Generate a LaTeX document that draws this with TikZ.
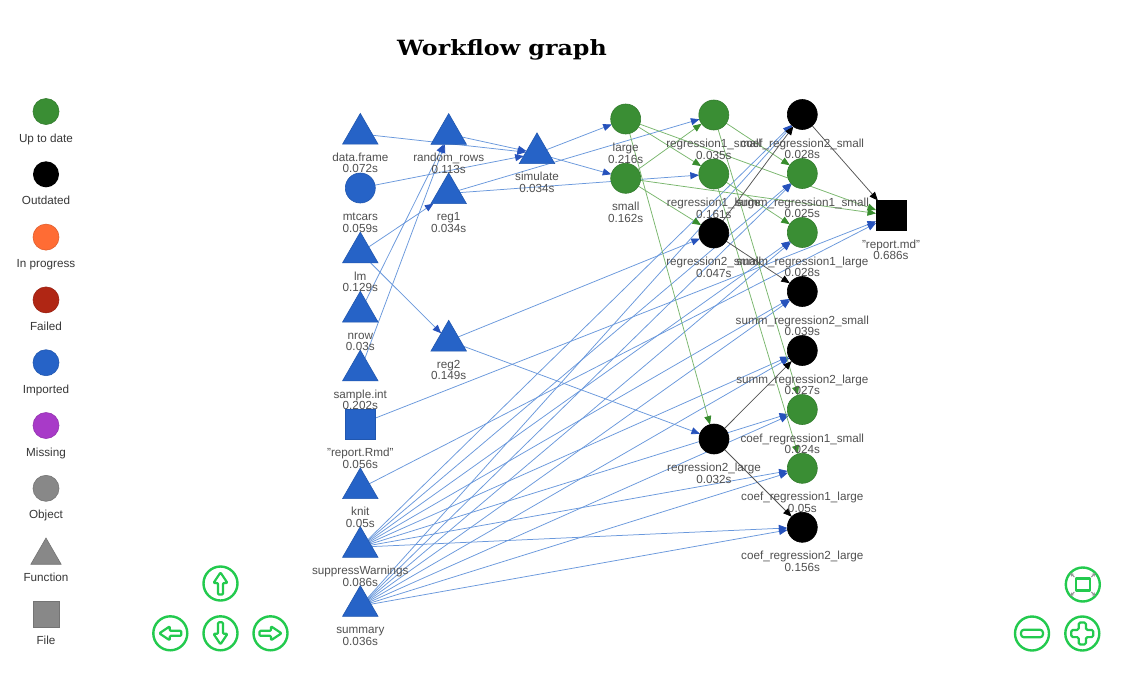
\documentclass[tikz,border=0pt]{standalone}
\usepackage{fontspec}
\setmainfont{Liberation Sans}
\newfontfamily\titlefont{DejaVu Serif}
\usetikzlibrary{shapes.geometric,arrows.meta,backgrounds}

\definecolor{uptodate}{RGB}{58,142,52}
\definecolor{imported}{RGB}{38,99,199}
\definecolor{inprog}{RGB}{255,108,52}
\definecolor{failed}{RGB}{176,38,20}
\definecolor{missing}{RGB}{168,58,200}
\definecolor{objgray}{RGB}{136,136,136}
\definecolor{navgreen}{RGB}{35,202,78}
\definecolor{edgeblue}{RGB}{105,152,220}
\definecolor{arrowblue}{RGB}{38,82,188}
\definecolor{edgegreen}{RGB}{120,182,108}
\definecolor{arrowgreen}{RGB}{55,140,45}
\definecolor{edgegray}{RGB}{85,85,85}
\definecolor{labelgray}{RGB}{80,80,80}
\definecolor{legendtext}{RGB}{55,55,55}

\newcommand\lblfont{\fontsize{11.7}{11.5}\selectfont}

\tikzset{
  tri/.style={regular polygon, regular polygon sides=3, minimum size=41pt, inner sep=0pt, outer sep=0pt},
  circ/.style={circle, minimum size=30pt, inner sep=0pt, outer sep=0pt},
  sq/.style={rectangle, minimum size=30pt, inner sep=0pt, outer sep=0pt},
  imp/.style={fill=imported, draw=imported!88!black, line width=0.6pt},
  upd/.style={fill=uptodate, draw=uptodate!88!black, line width=0.6pt},
  outd/.style={fill=black, draw=black, line width=0.6pt},
  lbl/.style={anchor=base, inner sep=0pt, outer sep=0pt, text=labelgray, font=\lblfont},
  leglbl/.style={anchor=base, inner sep=0pt, text=legendtext, font=\lblfont},
  eb/.style={draw=edgeblue, line width=0.75pt, -{Triangle[length=8.5pt,width=7pt,color=arrowblue]}},
  eg/.style={draw=edgegreen, line width=0.75pt, -{Triangle[length=8.5pt,width=7pt,color=arrowgreen]}},
  ek/.style={draw=edgegray, line width=0.75pt, -{Triangle[length=8.5pt,width=7pt,color=black]}},
  navbtn/.style={circle, draw=navgreen, line width=2.4pt, minimum size=34pt, inner sep=0pt},
  navglyph/.style={draw=navgreen, line width=2.2pt, rounded corners=1pt, line join=round},
  cornerarrow/.style={draw=gray!85, line width=1pt, -{Stealth[length=3.5pt,width=4pt]}},
}

\newcommand\gtri[6]{%
  \node[tri,#4] (#1) at (#2,#3+5.1) {};
  \node[lbl] (#1-lab) at (#2,#3+32.5) {\begin{tabular}[t]{@{}c@{}}#5\\#6\end{tabular}};}
\newcommand\gcirc[6]{%
  \node[circ,#4] (#1) at (#2,#3) {};
  \node[lbl] (#1-lab) at (#2,#3+32.5) {\begin{tabular}[t]{@{}c@{}}#5\\#6\end{tabular}};}
\newcommand\gsq[6]{%
  \node[sq,#4] (#1) at (#2,#3) {};
  \node[lbl] (#1-lab) at (#2,#3+32.5) {\begin{tabular}[t]{@{}c@{}}#5\\#6\end{tabular}};}

\begin{document}
\begin{tikzpicture}[x=1pt,y=-1pt]
\useasboundingbox (0,0) rectangle (1125,689);

% title
\node[anchor=base, inner sep=0pt, font=\titlefont\bfseries\fontsize{21}{24}\selectfont] (title) at (502,55) {\scalebox{1.13}[1]{Workflow graph}};

% legend
\node[circ, minimum size=26pt, fill=uptodate, draw=uptodate!88!black, line width=0.6pt] (leg-utd) at (46,111.5) {};
\node[leglbl] (leg-utd-l) at (46,142) {Up to date};
\node[circ, minimum size=26pt, fill=black] (leg-out) at (46,174.3) {};
\node[leglbl] (leg-out-l) at (46,204.8) {Outdated};
\node[circ, minimum size=26pt, fill=inprog, draw=inprog!88!black, line width=0.6pt] (leg-inp) at (46,237.1) {};
\node[leglbl] (leg-inp-l) at (46,267.6) {In progress};
\node[circ, minimum size=26pt, fill=failed, draw=failed!88!black, line width=0.6pt] (leg-fail) at (46,299.9) {};
\node[leglbl] (leg-fail-l) at (46,330.4) {Failed};
\node[circ, minimum size=26pt, fill=imported, draw=imported!88!black, line width=0.6pt] (leg-imp) at (46,362.7) {};
\node[leglbl] (leg-imp-l) at (46,393.2) {Imported};
\node[circ, minimum size=26pt, fill=missing, draw=missing!88!black, line width=0.6pt] (leg-mis) at (46,425.5) {};
\node[leglbl] (leg-mis-l) at (46,456) {Missing};
\node[circ, minimum size=26pt, fill=objgray, draw=objgray!85!black, line width=0.6pt] (leg-obj) at (46,488.3) {};
\node[leglbl] (leg-obj-l) at (46,518.8) {Object};
\node[tri, minimum size=35pt, fill=objgray, draw=objgray!85!black, line width=0.6pt] (leg-fun) at (46,551.1+4.4) {};
\node[leglbl] (leg-fun-l) at (46,581.6) {Function};
\node[sq, minimum size=26pt, fill=objgray, draw=objgray!85!black, line width=0.6pt] (leg-file) at (46,613.9) {};
\node[leglbl] (leg-file-l) at (46,644.4) {File};

% graph nodes
\gtri{df}{360.3}{128.8}{imp}{data.frame}{0.072s}
\gcirc{mt}{360.3}{188}{imp}{mtcars}{0.059s}
\gtri{lm}{360.3}{247.5}{imp}{lm}{0.129s}
\gtri{nrow}{360.3}{306.7}{imp}{nrow}{0.03s}
\gtri{sint}{360.3}{365.5}{imp}{sample.int}{0.202s}
\gsq{rmd}{360.3}{424}{imp}{"report.Rmd"}{0.056s}
\gtri{knit}{360.3}{483.3}{imp}{knit}{0.05s}
\gtri{sw}{360.3}{542}{imp}{suppressWarnings}{0.086s}
\gtri{summ}{360.3}{601}{imp}{summary}{0.036s}
\gtri{rr}{448.7}{129}{imp}{random\_rows}{0.113s}
\gtri{reg1}{448.7}{188.3}{imp}{reg1}{0.034s}
\gtri{reg2}{448.7}{335.7}{imp}{reg2}{0.149s}
\gtri{sim}{537}{148.3}{imp}{simulate}{0.034s}
\gcirc{large}{625.7}{119}{upd}{large}{0.216s}
\gcirc{small}{625.7}{178.3}{upd}{small}{0.162s}
\gcirc{r1s}{713.8}{115}{upd}{regression1\_small}{0.035s}
\gcirc{r1l}{713.8}{174}{upd}{regression1\_large}{0.161s}
\gcirc{r2s}{713.8}{233}{outd}{regression2\_small}{0.047s}
\gcirc{r2l}{714}{439}{outd}{regression2\_large}{0.032s}
\gcirc{c2s}{802.3}{114.5}{outd}{coef\_regression2\_small}{0.028s}
\gcirc{s1s}{802.3}{173.5}{upd}{summ\_regression1\_small}{0.025s}
\gcirc{s1l}{802.3}{232.5}{upd}{summ\_regression1\_large}{0.028s}
\gcirc{s2s}{802.3}{291.5}{outd}{summ\_regression2\_small}{0.039s}
\gcirc{s2l}{802.3}{350.5}{outd}{summ\_regression2\_large}{0.027s}
\gcirc{c1s}{802.3}{409.5}{upd}{coef\_regression1\_small}{0.024s}
\gcirc{c1l}{802.3}{468.3}{upd}{coef\_regression1\_large}{0.05s}
\gcirc{c2l}{802.3}{527.3}{outd}{coef\_regression2\_large}{0.156s}
\gsq{md}{891}{215.5}{outd}{"report.md"}{0.686s}

% edges (under the nodes)
\begin{scope}[on background layer]
\fill[white] (0,0) rectangle (1125,689);
\foreach \a/\b in {df/sim, rr/sim, mt/sim, nrow/rr, sint/rr, lm/reg1, lm/reg2,
    sim/large, sim/small, reg1/r1s, reg1/r1l, reg2/r2s, reg2/r2l, rmd/md, knit/md,
    sw/s1s, sw/s1l, sw/s2s, sw/s2l, sw/c1s, sw/c1l, sw/c2s, sw/c2l,
    summ/s1s, summ/s1l, summ/s2s, summ/s2l, summ/c1s, summ/c1l, summ/c2s, summ/c2l}
  \draw[eb] (\a) -- (\b);
\foreach \a/\b in {large/r1l, large/r2l, large/md, small/r1s, small/r2s, small/md,
    r1s/s1s, r1s/c1s, r1l/s1l, r1l/c1l}
  \draw[eg] (\a) -- (\b);
\foreach \a/\b in {r2s/s2s, r2s/c2s, r2l/s2l, r2l/c2l, c2s/md}
  \draw[ek] (\a) -- (\b);
\end{scope}

% navigation buttons
\node[navbtn] (nav-up) at (220.5,583.5) {};
\node[navbtn] (nav-left) at (170.3,633.3) {};
\node[navbtn] (nav-down) at (220.5,633.3) {};
\node[navbtn] (nav-right) at (270.5,633.3) {};
\node[navbtn] (nav-fit) at (1082.8,584.5) {};
\node[navbtn] (nav-minus) at (1032,633.5) {};
\node[navbtn] (nav-plus) at (1082.3,633.5) {};

\begin{scope}[shift={(nav-up.center)}]
  \draw[navglyph] (0,-11) -- (7,-0.5) -- (2.5,-0.5) -- (2.5,11) -- (-2.5,11) -- (-2.5,-0.5) -- (-7,-0.5) -- cycle;
\end{scope}
\begin{scope}[shift={(nav-down.center)}]
  \draw[navglyph] (0,11) -- (7,0.5) -- (2.5,0.5) -- (2.5,-11) -- (-2.5,-11) -- (-2.5,0.5) -- (-7,0.5) -- cycle;
\end{scope}
\begin{scope}[shift={(nav-left.center)}]
  \draw[navglyph] (-11,0) -- (-0.5,7) -- (-0.5,2.5) -- (11,2.5) -- (11,-2.5) -- (-0.5,-2.5) -- (-0.5,-7) -- cycle;
\end{scope}
\begin{scope}[shift={(nav-right.center)}]
  \draw[navglyph] (11,0) -- (0.5,7) -- (0.5,2.5) -- (-11,2.5) -- (-11,-2.5) -- (0.5,-2.5) -- (0.5,-7) -- cycle;
\end{scope}
\begin{scope}[shift={(nav-minus.center)}]
  \draw[navglyph, rounded corners=3pt] (-11,-3.8) rectangle (11,3.8);
\end{scope}
\begin{scope}[shift={(nav-plus.center)}]
  \draw[navglyph, rounded corners=1.5pt] (-3.6,-11) -- (3.6,-11) -- (3.6,-3.6) -- (11,-3.6) -- (11,3.6) -- (3.6,3.6) -- (3.6,11) -- (-3.6,11) -- (-3.6,3.6) -- (-11,3.6) -- (-11,-3.6) -- (-3.6,-3.6) -- cycle;
\end{scope}
\begin{scope}[shift={(nav-fit.center)}]
  \draw[navglyph, rounded corners=0pt] (-7,-6) rectangle (7,6);
  \draw[cornerarrow] (-8.5,-7.5) -- (-12.5,-11.5);
  \draw[cornerarrow] (8.5,-7.5) -- (12.5,-11.5);
  \draw[cornerarrow] (-8.5,7.5) -- (-12.5,11.5);
  \draw[cornerarrow] (8.5,7.5) -- (12.5,11.5);
\end{scope}
\end{tikzpicture}
\end{document}
